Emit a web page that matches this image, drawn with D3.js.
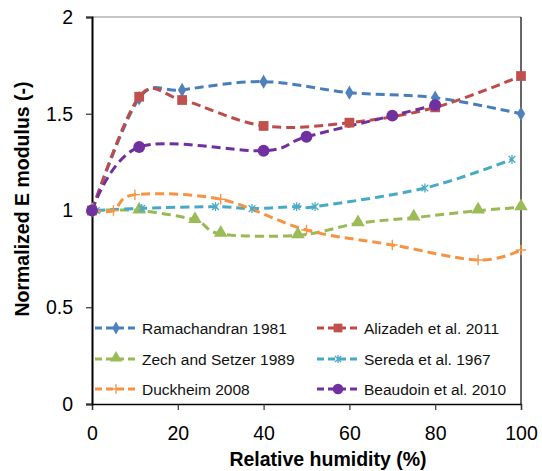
<!DOCTYPE html>
<html>
<head>
<meta charset="utf-8">
<script src="https://cdn.jsdelivr.net/npm/d3@7"></script>
<style>
  body { margin: 0; background: #fff; }
  text { font-family: "Liberation Sans", Arial, sans-serif; }
</style>
</head>
<body>
<svg width="542" height="471"></svg>
<script>
// data
var seriesNames = ["Ramachandran 1981", "Alizadeh et al. 2011", "Zech and Setzer 1989",
                   "Sereda et al. 1967", "Duckheim 2008", "Beaudoin et al. 2010"];

var ramachandranX = [0, 11, 21, 40, 60, 80, 100];
var ramachandranY = [1.0, 1.58, 1.623, 1.666, 1.609, 1.583, 1.5];

var alizadehX = [0, 11, 21, 40, 60, 80, 100];
var alizadehY = [1.0, 1.588, 1.571, 1.437, 1.454, 1.533, 1.695];

var zechX = [0, 11, 24, 30, 48, 62, 75, 90, 100];
var zechY = [1.0, 0.999, 0.951, 0.879, 0.872, 0.934, 0.963, 0.999, 1.016];

var seredaX = [1, 11.6, 28.8, 37.3, 47.7, 52, 77.6, 97.9];
var seredaY = [1.0, 1.011, 1.02, 1.01, 1.02, 1.02, 1.116, 1.264];

var duckheimX = [0, 5, 10, 30, 50, 70, 90, 100];
var duckheimY = [1.0, 1.0, 1.082, 1.058, 0.899, 0.822, 0.744, 0.796];

var beaudoinX = [0, 11, 40, 50, 70, 80];
var beaudoinY = [1.0, 1.328, 1.309, 1.381, 1.49, 1.545];

var xTicks = [0, 20, 40, 60, 80, 100];
var yTicks = [0, 0.5, 1, 1.5, 2];

var svg = d3.select("svg"),
    width = +svg.attr("width"),
    height = +svg.attr("height");

// plot box
var pLeft = 92, pRight = 521, pTop = 17, pBottom = 404;

var x = d3.scaleLinear().domain([0, 100]).range([pLeft, pRight]);
var y = d3.scaleLinear().domain([0, 2]).range([pBottom, pTop]);

var series = [
  { name: seriesNames[0], xs: ramachandranX, ys: ramachandranY, line: "#4A7EBB", fill: "#4F81BD", sym: "diamond" },
  { name: seriesNames[1], xs: alizadehX, ys: alizadehY, line: "#BE4B48", fill: "#C0504D", sym: "square" },
  { name: seriesNames[2], xs: zechX, ys: zechY, line: "#98B954", fill: "#9BBB59", sym: "triangle" },
  { name: seriesNames[3], xs: seredaX, ys: seredaY, line: "#46AAC5", fill: "#4BACC6", sym: "star" },
  { name: seriesNames[4], xs: duckheimX, ys: duckheimY, line: "#F69240", fill: "#F79646", sym: "plus" },
  { name: seriesNames[5], xs: beaudoinX, ys: beaudoinY, line: "#7030A0", fill: "#7030A0", sym: "circle" }
];

// frame
svg.append("line").attr("x1", pLeft).attr("x2", pRight).attr("y1", pTop).attr("y2", pTop)
  .attr("stroke", "#888").attr("stroke-width", 1);
svg.append("line").attr("x1", pRight).attr("x2", pRight).attr("y1", pTop).attr("y2", pBottom)
  .attr("stroke", "#000").attr("stroke-width", 1.2);

// axes
var xAxis = svg.append("g").attr("transform", "translate(0," + pBottom + ")")
  .call(d3.axisBottom(x).tickValues(xTicks).tickSize(6).tickPadding(16).tickFormat(d3.format("d")));
var yAxis = svg.append("g").attr("transform", "translate(" + pLeft + ",0)")
  .call(d3.axisLeft(y).tickValues(yTicks).tickSize(6).tickPadding(13).tickFormat(function(d) { return d; }));

[xAxis, yAxis].forEach(function(a) {
  a.select(".domain").attr("stroke", "#000").attr("stroke-width", 2);
  a.selectAll(".tick line").attr("stroke", "#333").attr("stroke-width", 1.2);
  a.selectAll(".tick text").attr("fill", "#000").style("font-size", "19.5px")
    .style("font-family", "'Liberation Sans', Arial, sans-serif");
});
xAxis.select(".domain").attr("stroke-width", 1.3);

// axis titles
svg.append("text").attr("x", 328).attr("y", 466).attr("text-anchor", "middle")
  .style("font-size", "19.5px").style("font-weight", "bold").text("Relative humidity (%)");
svg.append("text").attr("transform", "translate(29,199) rotate(-90)").attr("text-anchor", "middle")
  .style("font-size", "19.5px").style("font-weight", "bold").text("Normalized E modulus (-)");

var symbols = {
  diamond: d3.symbolDiamond, square: d3.symbolSquare, triangle: d3.symbolTriangle,
  circle: d3.symbolCircle
};
var sizes = { diamond: 60, square: 95, triangle: 80, star: 80, plus: 110, circle: 110 };

function drawMarker(g, s, px, py, scale) {
  var sz = sizes[s.sym] * (scale || 1);
  if (s.sym === "star") {
    // excel star: an x with a vertical bar
    var r = Math.sqrt(sz) / 2, k = r * 0.75;
    var p = "M" + (-k) + "," + (-k) + "L" + k + "," + k +
            "M" + (-k) + "," + k + "L" + k + "," + (-k) +
            "M0," + (-r) + "L0," + r;
    g.append("path").attr("d", p).attr("transform", "translate(" + px + "," + py + ")")
      .attr("stroke", s.fill).attr("stroke-width", 1.3).attr("fill", "none");
  } else if (s.sym === "plus") {
    var r2 = Math.sqrt(sz) / 2;
    g.append("path").attr("d", "M" + (-r2) + ",0L" + r2 + ",0M0," + (-r2) + "L0," + r2)
      .attr("transform", "translate(" + px + "," + py + ")")
      .attr("stroke", s.fill).attr("stroke-width", 1.4).attr("fill", "none");
  } else {
    g.append("path").attr("d", d3.symbol().type(symbols[s.sym]).size(sz)())
      .attr("transform", "translate(" + px + "," + (s.sym === "triangle" ? py - 1 : py) + ")")
      .attr("fill", s.fill);
  }
}

var line = d3.line().curve(d3.curveCatmullRom.alpha(0))
  .x(function(d) { return x(d[0]); }).y(function(d) { return y(d[1]); });

var plot = svg.append("g");
series.forEach(function(s) {
  var pts = s.xs.map(function(v, i) { return [v, s.ys[i]]; });
  plot.append("path").datum(pts).attr("d", line)
    .attr("fill", "none").attr("stroke", s.line).attr("stroke-width", 3)
    .attr("stroke-dasharray", "9,5");
});
series.forEach(function(s) {
  var gm = plot.append("g");
  s.xs.forEach(function(v, i) { drawMarker(gm, s, x(v), y(s.ys[i])); });
});

// legend
var legend = svg.append("g");
var rows = [328, 359, 389];
var cols = [95, 317];
series.forEach(function(s, i) {
  var lx = cols[i % 2], ly = rows[Math.floor(i / 2)];
  legend.append("line").attr("x1", lx).attr("x2", lx + 42).attr("y1", ly).attr("y2", ly)
    .attr("stroke", s.line).attr("stroke-width", 3).attr("stroke-dasharray", "7,4");
  drawMarker(legend, s, lx + 21, ly, 0.8);
  legend.append("text").attr("x", lx + 47).attr("y", ly + 5.5)
    .style("font-size", "15.5px").attr("fill", "#111").text(s.name);
});
</script>
</body>
</html>
